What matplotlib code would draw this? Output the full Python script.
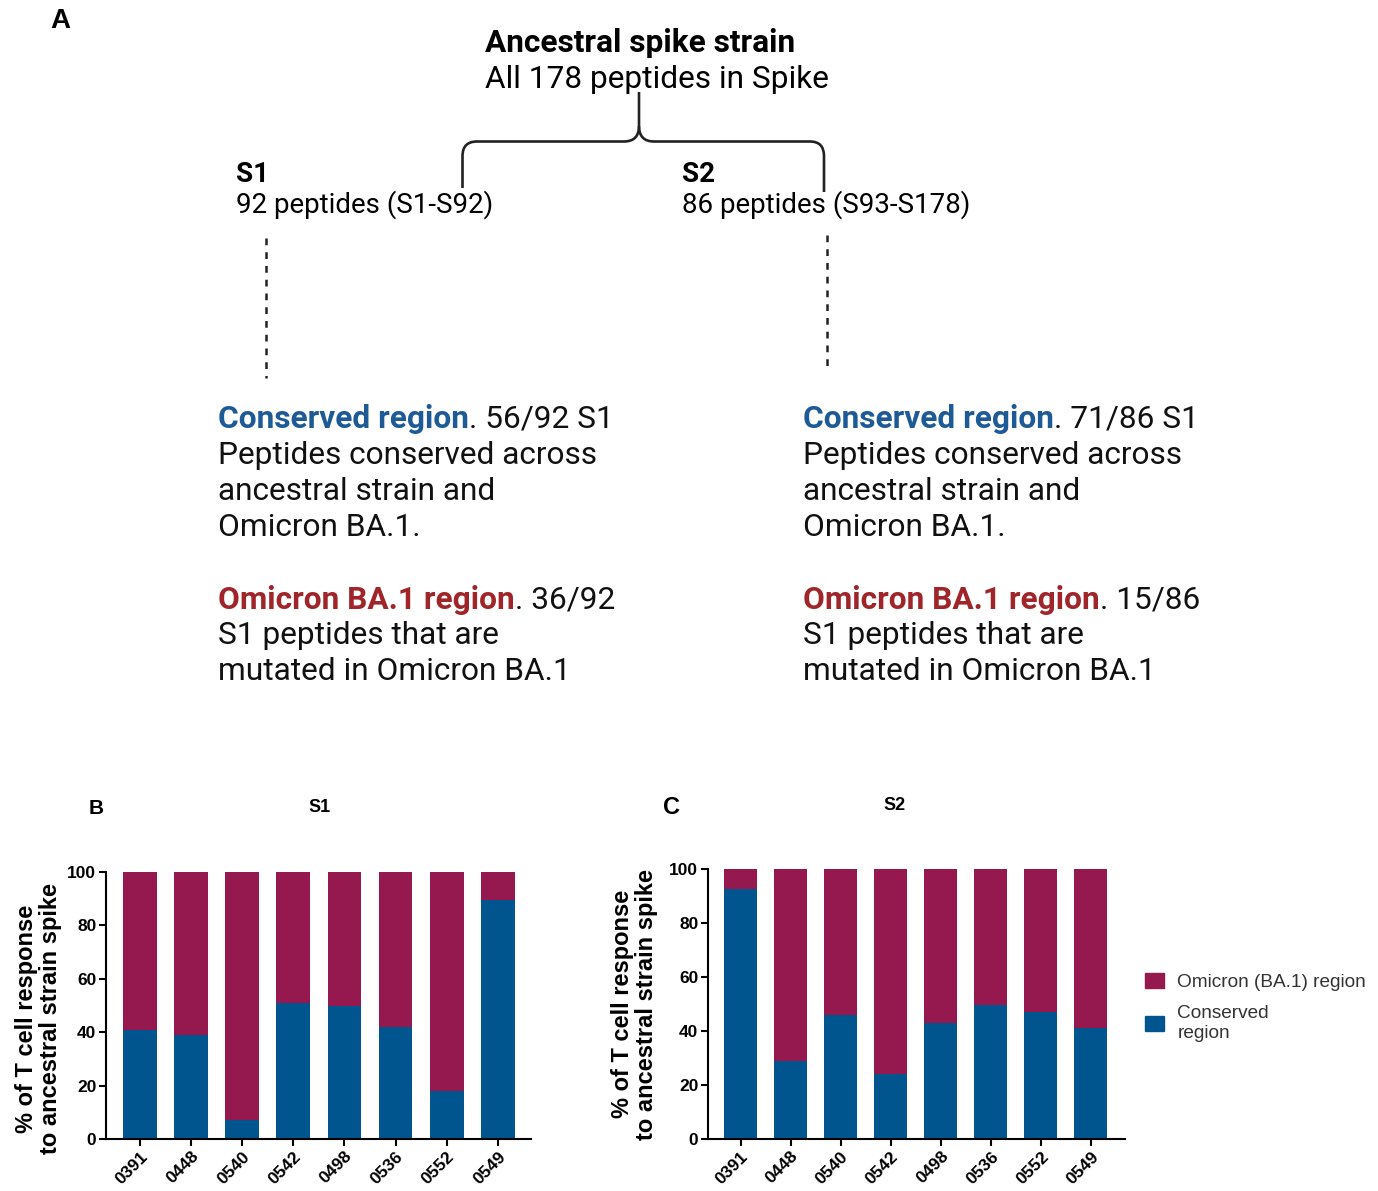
import matplotlib.pyplot as plt
import numpy as np
from matplotlib.path import Path
from matplotlib.patches import PathPatch, Patch

donors = ['0391', '0448', '0540', '0542', '0498', '0536', '0552', '0549']
s1_conserved = [41, 39, 7, 51, 50, 42, 18, 89.5]
s2_conserved = [92.5, 29, 46, 24, 43, 49.5, 47, 41]
s1_omicron = [100 - v for v in s1_conserved]
s2_omicron = [100 - v for v in s2_conserved]

yticks = [0, 20, 40, 60, 80, 100]

c_omicron = '#95184f'
c_conserved = '#00558f'
c_blue_txt = '#1e5a96'
c_red_txt = '#a0252a'

W, H = 1378, 1191
fig = plt.figure(figsize=(W / 100, H / 100), dpi=100)

# panel A drawn in pixel coordinates on a full-figure axes
axA = fig.add_axes([0, 0, 1, 1])
axA.set_xlim(0, W)
axA.set_ylim(H, 0)
axA.axis('off')

rob = 'Roboto'
axA.text(50, 21, 'A', fontsize=20, fontweight='bold', family='Liberation Sans', va='center')
axA.text(485, 43, 'Ancestral spike strain', fontsize=22.8, fontweight='bold', family=rob, va='center')
axA.text(485, 79, 'All 178 peptides in Spike', fontsize=22.8, family=rob, va='center')
axA.text(236, 174, 'S1', fontsize=20, fontweight='bold', family=rob, va='center')
axA.text(236, 205, '92 peptides (S1-S92)', fontsize=20, family=rob, va='center')
axA.text(682, 174, 'S2', fontsize=20, fontweight='bold', family=rob, va='center')
axA.text(682, 205, '86 peptides (S93-S178)', fontsize=20, family=rob, va='center')

# bracket
lw_b = 1.9
left = Path([(462.5, 188), (462.5, 156), (462.5, 141.5), (477, 141.5), (624, 141.5),
             (639, 141.5), (639, 126), (639, 92)],
            [Path.MOVETO, Path.LINETO, Path.CURVE3, Path.CURVE3, Path.LINETO,
             Path.CURVE3, Path.CURVE3, Path.LINETO])
right = Path([(639, 126), (639, 141.5), (654, 141.5), (810, 141.5), (824, 141.5),
              (824, 156), (824, 192)],
             [Path.MOVETO, Path.CURVE3, Path.CURVE3, Path.LINETO, Path.CURVE3,
              Path.CURVE3, Path.LINETO])
for p in (left, right):
    axA.add_patch(PathPatch(p, fill=False, lw=lw_b, color='#222222', capstyle='butt'))

# dotted connectors
axA.plot([266, 266], [238, 378], color='#222222', lw=1.8, linestyle=(0, (2.7, 2.8)))
axA.plot([827, 827], [235, 372], color='#222222', lw=1.8, linestyle=(0, (2.7, 2.8)))

fig.canvas.draw()
renderer = fig.canvas.get_renderer()

fs_body = 22.8


def two_part(x, y, head, tail, color):
    t = axA.text(x, y, head, fontsize=fs_body, fontweight='bold', family=rob, color=color, va='center')
    bb = t.get_window_extent(renderer)
    axA.text(bb.x1, y, tail, fontsize=fs_body, family=rob, color='#111111', va='center')


blocks = [
    (218, '. 56/92 S1', '. 36/92'),
    (803, '. 71/86 S1', '. 15/86'),
]
for x, t_cons, t_omi in blocks:
    two_part(x, 419, 'Conserved region', t_cons, c_blue_txt)
    axA.text(x, 455, 'Peptides conserved across', fontsize=fs_body, family=rob, color='#111111', va='center')
    axA.text(x, 491, 'ancestral strain and', fontsize=fs_body, family=rob, color='#111111', va='center')
    axA.text(x, 527, 'Omicron BA.1.', fontsize=fs_body, family=rob, color='#111111', va='center')
    two_part(x, 600, 'Omicron BA.1 region', t_omi, c_red_txt)
    axA.text(x, 636, 'S1 peptides that are', fontsize=fs_body, family=rob, color='#111111', va='center')
    axA.text(x, 672, 'mutated in Omicron BA.1', fontsize=fs_body, family=rob, color='#111111', va='center')

# panels B and C
arial = 'Liberation Sans'


def bar_panel(rect, conserved, omicron, xpad_l, xpad_r, label_xy):
    l, r, b, t = rect
    ax = fig.add_axes([l / W, 1 - b / H, (r - l) / W, (b - t) / H])
    x = np.arange(len(donors))
    ax.bar(x, conserved, width=0.66, color=c_conserved, edgecolor='none')
    ax.bar(x, omicron, bottom=conserved, width=0.66, color=c_omicron, edgecolor='none')
    ax.set_xlim(-xpad_l, len(donors) - 1 + xpad_r)
    ax.set_ylim(0, 100)
    ax.set_yticks(yticks)
    ax.set_xticks(x)
    ax.set_xticklabels(donors, rotation=45, ha='right', rotation_mode='anchor',
                       fontsize=12.5, fontweight='bold', family=arial)
    ax.set_yticklabels([str(v) for v in yticks], fontsize=12.5, fontweight='bold', family=arial)
    for s in ['top', 'right']:
        ax.spines[s].set_visible(False)
    for s in ['left', 'bottom']:
        ax.spines[s].set_linewidth(1.5)
    ax.tick_params(length=5, width=1.5, pad=2)
    ax.set_ylabel('% of T cell response\nto ancestral strain spike', fontsize=17,
                  fontweight='bold', family=arial, linespacing=1.05)
    ax.yaxis.set_label_coords(*label_xy)
    return ax


axB = bar_panel((106, 531, 1139, 872), s1_conserved, s1_omicron, 0.665, 0.65, (-0.104, 0.45))
axC = bar_panel((708, 1125, 1139, 869), s2_conserved, s2_omicron, 0.65, 0.68, (-0.12, 0.5))

axA.text(96, 808, 'B', fontsize=15, fontweight='bold', family=arial, ha='center', va='center')
axA.text(320, 807, 'S1', fontsize=13, fontweight='bold', family=arial, ha='center', va='center')
axA.text(672, 808, 'C', fontsize=17, fontweight='bold', family=arial, ha='center', va='center')
axA.text(895, 806, 'S2', fontsize=13, fontweight='bold', family=arial, ha='center', va='center')

handles = [Patch(color=c_omicron), Patch(color=c_conserved)]
fig.legend(handles, ['Omicron (BA.1) region', 'Conserved\nregion'],
           loc='upper left', bbox_to_anchor=(1128 / W, 1 - 956 / H), frameon=False,
           prop={'family': arial, 'size': 13.7}, labelcolor='#333333',
           handlelength=1.0, handleheight=0.8, handletextpad=0.7, labelspacing=0.75)

fig.savefig('out.png', dpi=100)
